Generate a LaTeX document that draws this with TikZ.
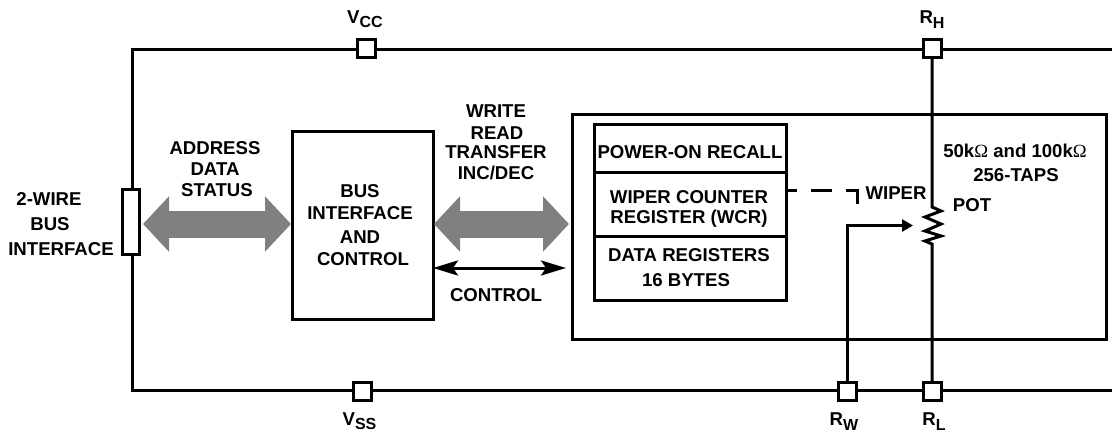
\documentclass[tikz,border=0pt]{standalone}
\usepackage{fontspec}
\setmainfont{Liberation Sans}
\newfontfamily\omegafont{Liberation Serif}
\usetikzlibrary{arrows.meta}
\newcommand{\subtxt}[1]{\raisebox{-4.5pt}{\fontsize{16}{16}\selectfont #1}}
\definecolor{busgray}{gray}{0.5}
\tikzset{
  lbl/.style={inner sep=0pt,text height=13pt,text depth=0pt,font=\fontsize{18.6}{21}\selectfont\bfseries},
  pin/.style={draw,fill=white,minimum width=18pt,minimum height=18pt,inner sep=0pt,outer sep=0pt},
  blk/.style={draw,inner sep=0pt,outer sep=0pt},
  wire/.style={draw},
  busarrow/.style={draw=busgray,line width=27pt,{Triangle[length=26pt,width=54pt]}-{Triangle[length=26pt,width=54pt]}},
  ctrlarrow/.style={draw,{Stealth[length=25pt,width=15pt,inset=5pt]}-{Stealth[length=25pt,width=15pt,inset=5pt]}}
}
\begin{document}
\begin{tikzpicture}[x=1pt,y=-1pt,line width=3pt]
\useasboundingbox (0,0) rectangle (1112,432);
% pins
\node[pin] (vcc) at (366,48) {};
\node[pin] (rh) at (932,48) {};
\node[pin] (vss) at (362.5,391) {};
\node[pin] (rw) at (847,391) {};
\node[pin] (rl) at (932,391) {};
\node[pin,minimum width=17.5pt,minimum height=65pt] (bus) at (131,222) {};
% blocks
\node[blk,minimum width=141pt,minimum height=188pt] (bic) at (362.5,225) {};
\node[blk,minimum width=534pt,minimum height=225pt] (chip) at (839,226.5) {};
\node[blk,minimum width=192pt,minimum height=48pt] (por) at (690,148) {};
\node[blk,minimum width=192pt,minimum height=64pt] (wcr) at (690,204) {};
\node[blk,minimum width=192pt,minimum height=64pt] (dreg) at (690,268) {};
% rails
\coordinate (tl) at (132,49.5);
\coordinate (bl) at (132,390);
\coordinate (tr) at (1112,49.5);
\coordinate (br) at (1112,390);
\draw[wire] (bus.north -| tl) -- (tl) -- (vcc.west |- tl);
\draw[wire] (vcc.east |- tl) -- (rh.west |- tl);
\draw[wire] (rh.east |- tl) -- (tr);
\draw[wire] (bus.south -| bl) -- (bl) -- (vss.west |- bl);
\draw[wire] (vss.east |- bl) -- (rw.west |- bl);
\draw[wire] (rw.east |- bl) -- (rl.west |- bl);
\draw[wire] (rl.east |- bl) -- (br);
% pot
\draw[wire,line join=miter] (rh.south) -- (932,207) -- (941,211) -- (925,217) -- (941,224) -- (925,231) -- (941,236) -- (925,241) -- (932,244) -- (rl.north);
% wiper
\coordinate (wtip) at (913,225.5);
\draw[wire,-{Triangle[length=11pt,width=12pt]}] (rw.north) -- (rw.north |- wtip) -- (wtip);
% dashed
\coordinate (dcorner) at (857,190.5);
\coordinate (dend) at (857,204);
\draw[wire,dash pattern=on 11pt off 14pt on 21pt off 14pt on 30pt] (wcr.east |- dcorner) -- (dcorner) -- (dend);
% bus arrows
\draw[busarrow] (143,224) -- (291,224);
\draw[busarrow] (434,224) -- (569,224);
\draw[ctrlarrow] (bic.east |- 0,268) -- (566,268);
% labels
\node[lbl] (l2w) at (49,199) {2-WIRE};
\node[lbl] (lbus) at (50,224) {BUS};
\node[lbl] (lif) at (61,249) {INTERFACE};
\node[lbl] (la1) at (215,148) {ADDRESS};
\node[lbl] (la2) at (215,169) {DATA};
\node[lbl] (la3) at (217,190) {STATUS};
\node[lbl] (lb1) at (360,191) {BUS};
\node[lbl] (lb2) at (360,213) {INTERFACE};
\node[lbl] (lb3) at (360,237) {AND};
\node[lbl] (lb4) at (363,259) {CONTROL};
\node[lbl] (lw1) at (496,111) {WRITE};
\node[lbl] (lw2) at (497,133) {READ};
\node[lbl] (lw3) at (496,152) {TRANSFER};
\node[lbl] (lw4) at (496,173) {INC/DEC};
\node[lbl] (lc) at (496,295) {CONTROL};
\node[lbl] (lp) at (690,152) {POWER-ON RECALL};
\node[lbl] (lr1) at (689,197) {WIPER COUNTER};
\node[lbl] (lr2) at (689,217) {REGISTER (WCR)};
\node[lbl] (ld1) at (689,255) {DATA REGISTERS};
\node[lbl] (ld2) at (686,280) {16 BYTES};
\node[lbl] (lwip) at (896,193) {WIPER};
\node[lbl] (lpot) at (972,205) {POT};
\node[lbl] (lk) at (1015,151) {50k{\omegafont\mdseries Ω} and 100k{\omegafont\mdseries Ω}};
\node[lbl] (lt) at (1016,175) {256-TAPS};
\node[lbl] (lvcc) at (365,16.5) {V\subtxt{CC}};
\node[lbl] (lrh) at (932,17) {R\subtxt{H}};
\node[lbl] (lrw) at (844,419) {R\subtxt{W}};
\node[lbl] (lrl) at (934,419) {R\subtxt{L}};
\node[lbl] (lvss) at (359.5,418.5) {V\subtxt{SS}};
\end{tikzpicture}
\end{document}
